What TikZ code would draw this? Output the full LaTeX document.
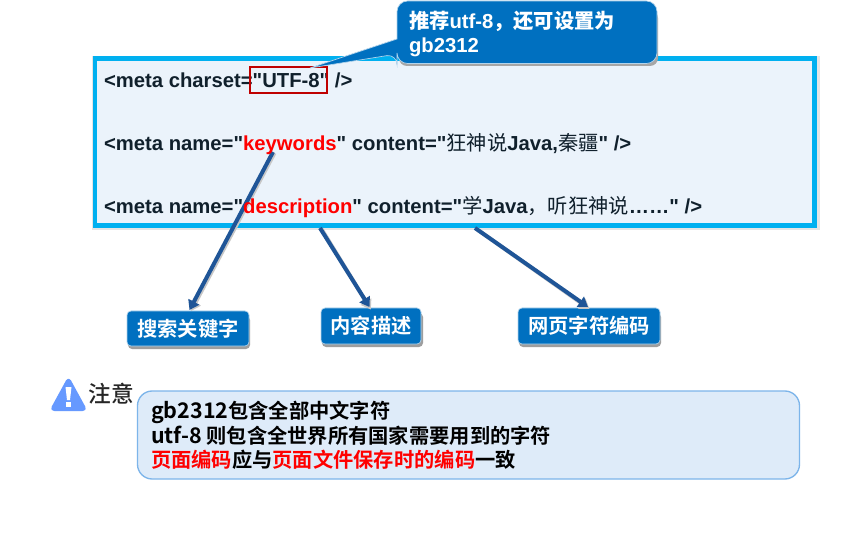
\documentclass[tikz,border=0pt]{standalone}
\usepackage{fontspec}
\newfontfamily\arial{Liberation Sans}
\newfontfamily\cjk{Noto Sans CJK SC}
\newfontfamily\cjkb{Noto Sans CJK SC Bold}
\newfontfamily\cjkm{Noto Sans CJK SC Medium}
\newfontfamily\notelat{Noto Sans CJK SC Bold}[Scale=1.06]
\newcommand{\zh}[1]{{\mdseries\cjk #1}}
\newcommand{\zb}[1]{{\cjkb #1}}
\newcommand{\nl}[1]{{\notelat #1}}
\usetikzlibrary{arrows.meta,calc}
\definecolor{cyanb}{HTML}{00B0F0}
\definecolor{panel}{HTML}{EBF3FB}
\definecolor{bluebox}{HTML}{0070C0}
\definecolor{arrowb}{HTML}{1F5597}
\definecolor{noteb}{HTML}{DEEBF9}
\definecolor{noteline}{HTML}{7DB5EA}
\definecolor{warn}{HTML}{6699FF}
\definecolor{inkd}{HTML}{10202C}
\definecolor{redt}{HTML}{FF0000}
\tikzset{x=0.75pt,y=-0.75pt,
 tag/.style={fill=bluebox,draw=white!70!bluebox,line width=0.5pt,rounded corners=3pt,inner sep=0pt,outer sep=0pt,
   text=white,font=\cjkb\fontsize{15.2pt}{15.2pt}\selectfont,anchor=north west,align=center},
 metaline/.style={anchor=base west,inner sep=0pt,outer sep=0pt,text=inkd,font=\arial\bfseries\fontsize{15.2pt}{15.2pt}\selectfont},
 calloutline/.style={anchor=base west,inner sep=0pt,outer sep=0pt,text=white,font=\arial\bfseries\fontsize{15.2pt}{15.2pt}\selectfont},
 conn/.style={draw=arrowb,line width=3pt,-{Triangle[length=7pt,width=9pt]}},
 connshadow/.style={draw=black!22,line width=3pt,-{Triangle[length=7pt,width=9pt]}},
 shad/.style={fill=black!38,rounded corners=3pt,draw=none}
}
\begin{document}
\begin{tikzpicture}
\useasboundingbox (0,0) rectangle (853,545);
\fill[white] (0,0) rectangle (853,545);
% main panel
\fill[black!10] (92,56) rectangle (820,230);
\node[draw=cyanb,fill=panel,line width=3.2pt,inner sep=0pt,outer sep=0pt,anchor=north west,minimum width=539.6pt,minimum height=125.25pt] (panel) at (95,58.5) {};
% tags
\fill[shad] (128,316) rectangle (250,349);
\node[tag,minimum width=91.5pt,minimum height=26.25pt] (t1) at (127,311) {搜索关键字};
\fill[shad] (322,313) rectangle (423,347);
\node[tag,minimum width=75pt,minimum height=27pt] (t2) at (321,308) {内容描述};
\fill[shad] (519,313) rectangle (661,347);
\node[tag,minimum width=106.5pt,minimum height=27pt] (t3) at (518,308) {网页字符编码};
% connectors
\coordinate (s1) at (273,152);
\coordinate (s2) at (320,228);
\coordinate (s3) at (475,228);
\draw[connshadow,shorten >=-0.5pt] ([shift={(1.5,1)}]s2) -- ([shift={(-0.5,1)}]t2.north);
\draw[connshadow] ([shift={(1.5,1)}]s3) -- ([shift={(0.5,1)}]t3.north);
\draw[connshadow] ([shift={(1.5,1)}]s1) -- ([shift={(3,0)}]t1.north);
\draw[conn] (s1) -- ([shift={(1.5,-1)}]t1.north);
\draw[conn] (s2) -- ([shift={(-1.5,-1)}]t2.north);
\draw[conn] (s3) -- ([shift={(-1,-1)}]t3.north);
% code lines
\node[metaline] (m1) at (104,88) {<meta charset="UTF-8" />};
\node[metaline] (m2) at (104,151) {<meta name="{\color{redt}keywords}" content="\zh{狂神说}Java,\zh{秦疆}" />};
\node[metaline] (m3) at (104,214) {<meta name="{\color{redt}description}" content="\zh{学}Java\zh{，听狂神说}……" />};
\node[draw=red!75!black,line width=1.5pt,inner sep=0pt,outer sep=0pt,anchor=north west,minimum width=57.5pt,minimum height=19.5pt] (utf) at (250,67) {};
% callout
\coordinate (tip) at (310,68);
\fill[black!35,rounded corners=6pt] (399,10) rectangle (658,66);
\draw[draw=white!70!bluebox,fill=bluebox,line width=0.5pt,rounded corners=8pt] (397,1) -- (657,1) -- (657,63.5) -- (397,63.5) -- (397,54) [sharp corners] -- (tip) -- (397,39) [rounded corners=8pt] -- cycle;
\node[calloutline] (c1) at (409,29) {\zb{推荐}utf-8\zb{，还可设置为}};
\node[calloutline] (c2) at (409,53) {gb2312};
% note
\fill[warn,draw=warn,line width=1.5pt,rounded corners=2.5pt,line join=round] (68.5,378) -- (86,410) -- (51,410) -- cycle;
\fill[white] (65.5,387) -- (71.5,387) -- (70,400) -- (67,400) -- cycle;
\fill[white] (66,402) rectangle (71,406.5);
\node[anchor=base west,inner sep=0pt,outer sep=0pt,text=black!85,font=\cjkm\fontsize{17pt}{17pt}\selectfont] (warnlab) at (88.5,402) {注意};
\node[draw=noteline,fill=noteb,line width=1pt,rounded corners=11pt,inner sep=0pt,outer sep=0pt,anchor=north west,minimum width=496.5pt,minimum height=66pt] (note) at (137.5,391) {};
\node[anchor=north west,inner sep=0pt,outer sep=0pt,align=left,text=black,font=\cjkb\fontsize{15.2pt}{18.5pt}\selectfont] (notetext) at (151,401) {\nl{gb2312}包含全部中文字符\\\nl{utf-8} 则包含全世界所有国家需要用到的字符\\{\color{redt}页面编码}应与{\color{redt}页面文件保存时的编码}一致};
\end{tikzpicture}
\end{document}
